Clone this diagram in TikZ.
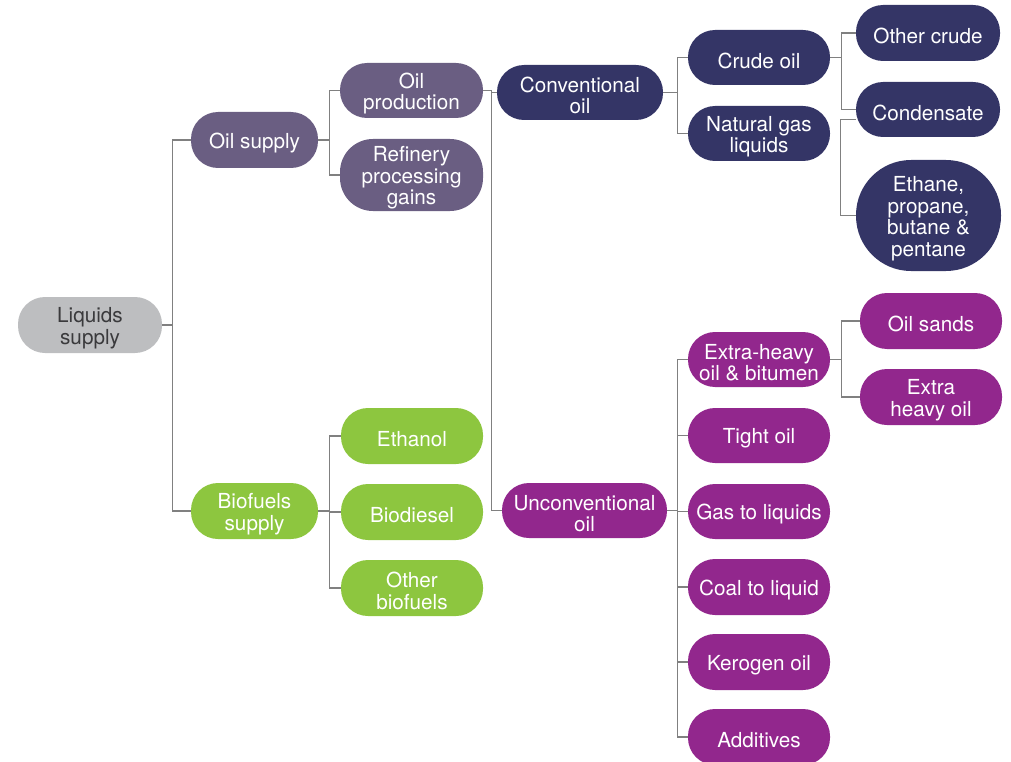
\documentclass[tikz,border=0pt]{standalone}
\usepackage{fontspec}
\setmainfont{TeX Gyre Heros}
\usetikzlibrary{calc}
\definecolor{cgray}{HTML}{BDBEC0}
\definecolor{cgraytext}{HTML}{3A3A3C}
\definecolor{cslate}{HTML}{6A5E82}
\definecolor{cnavy}{HTML}{343566}
\definecolor{cmag}{HTML}{92278D}
\definecolor{cgreen}{HTML}{8DC63F}
\definecolor{cline}{HTML}{808080}
\tikzset{
  pill/.style={rectangle, rounded corners=27pt, inner sep=0pt,
    minimum width=142pt, minimum height=56pt},
  gr/.style={pill, fill=cgray},
  sl/.style={pill, fill=cslate},
  nv/.style={pill, fill=cnavy},
  mg/.style={pill, fill=cmag},
  gn/.style={pill, fill=cgreen},
  txt/.style={inner sep=0pt, align=center, text=white, font=\fontsize{20.7}{21.5}\selectfont},
  conn/.style={draw=cline, line width=1.3pt}
}
% \mkpill[shape style]{name}{x,y}{text}[text style]
\newcommand\mkpill[4][]{%
  \node[#1] (#2) at (#3) {};
  \node[txt] (#2-t) at ($(#2.center)+(0,3)$) {#4};}
\newcommand\mkpillgray[4][]{%
  \node[#1] (#2) at (#3) {};
  \node[txt, text=cgraytext] (#2-t) at ($(#2.center)+(0,3)$) {#4};}
\begin{document}
\begin{tikzpicture}[x=1pt,y=-1pt]
\useasboundingbox (0,0) rectangle (1011,762);
% level 1
\mkpillgray[gr, minimum width=144pt]{liq}{90,325}{Liquids\\supply}
% level 2
\mkpill[sl, minimum width=127pt]{oilsup}{254.5,140}{Oil supply}
\mkpill[gn, minimum width=127pt]{biosup}{254.5,511}{Biofuels\\supply}
% level 3
\mkpill[sl, minimum width=143pt, minimum height=55pt]{oilprod}{411.5,90.5}{Oil\\production}
\mkpill[sl, minimum width=143pt, minimum height=72pt, rounded corners=33pt]{refin}{411.5,175}{Refinery\\processing\\gains}
\mkpill[gn]{ethanol}{412,436}{Ethanol}
\mkpill[gn]{biodiesel}{412,512}{Biodiesel}
\mkpill[gn]{otherbio}{412,588}{Other\\biofuels}
% level 4
\mkpill[nv, minimum width=166pt, minimum height=55pt]{conv}{580,92.5}{Conventional\\oil}
\mkpill[mg, minimum width=165pt, minimum height=55pt]{unconv}{584.5,510.5}{Unconventional\\oil}
% level 5 conventional
\mkpill[nv, minimum height=55pt]{crude}{759,57.5}{Crude oil}
\mkpill[nv, minimum height=55pt]{ngl}{759,133.5}{Natural gas\\liquids}
% level 5 unconventional
\mkpill[mg, minimum height=55pt]{xheavy}{759,359.5}{Extra-heavy\\oil \& bitumen}
\mkpill[mg, minimum height=55pt]{tight}{759,435.5}{Tight oil}
\mkpill[mg, minimum height=55pt]{gtl}{759,511.5}{Gas to liquids}
\mkpill[mg]{ctl}{759,587}{Coal to liquid}
\mkpill[mg]{kerogen}{759,662}{Kerogen oil}
\mkpill[mg]{additives}{759,737}{Additives}
% level 6
\mkpill[nv, minimum width=144pt]{othercrude}{928,33}{Other crude}
\mkpill[nv, minimum width=144pt, minimum height=55pt]{condensate}{928,109.5}{Condensate}
\mkpill[nv, minimum width=145pt, minimum height=111pt, rounded corners=55pt]{ethane}{928.5,215.5}{Ethane,\\propane,\\butane \&\\pentane}
\mkpill[mg]{oilsands}{931,321}{Oil sands}
\mkpill[mg]{xheavyoil}{931,397}{Extra\\heavy oil}
% connectors
\draw[conn] (liq.east) -- ++(10,0) |- (oilsup.west);
\draw[conn] (liq.east) -- ++(10,0) |- (biosup.west);
\draw[conn] (oilsup.east) -- ++(11,0) |- (oilprod.west);
\draw[conn] (oilsup.east) -- ++(11,0) |- (refin.west);
\draw[conn] (biosup.east) -- ++(11,0) |- (ethanol.west);
\draw[conn] (biosup.east) -- ++(11,0) |- (biodiesel.west);
\draw[conn] (biosup.east) -- ++(11,0) |- (otherbio.west);
\draw[conn] (oilprod.east) -- ++(8,0) |- (conv.west);
\draw[conn] (oilprod.east) -- ++(8,0) |- (unconv.west);
\draw[conn] (conv.east) -- ++(14,0) |- (crude.west);
\draw[conn] (conv.east) -- ++(14,0) |- (ngl.west);
\draw[conn] (crude.east) -- ++(11,0) |- (othercrude.west);
\draw[conn] (crude.east) -- ++(11,0) |- (condensate.west);
\draw[conn] ($(condensate.west)+(0,10)$) -- ++(-15,0) |- (ethane.west);
\foreach \t in {xheavy,tight,gtl,ctl,kerogen,additives}
  \draw[conn] (unconv.east) -- ++(10,0) |- (\t.west);
\draw[conn] (xheavy.east) -- ++(11,0) |- (oilsands.west);
\draw[conn] (xheavy.east) -- ++(11,0) |- (xheavyoil.west);
\end{tikzpicture}
\end{document}
